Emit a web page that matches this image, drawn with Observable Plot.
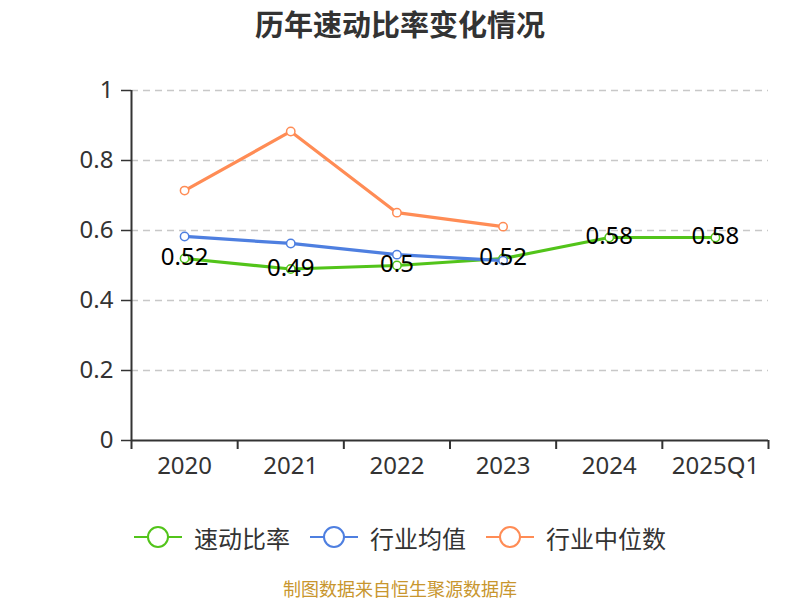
<!DOCTYPE html>
<html><head><meta charset="utf-8">
<script src="https://cdn.jsdelivr.net/npm/d3@7"></script>
<script src="https://cdn.jsdelivr.net/npm/@observablehq/plot@0.6"></script>
<style>
body{margin:0;background:#fff;font-family:"Noto Sans CJK SC","Noto Sans",sans-serif;width:800px;height:600px;overflow:hidden;position:relative}
#title{position:absolute;top:0;left:0;width:800px;height:46px;line-height:46px;text-align:center;font-size:29px;font-weight:bold;color:#333}
#chart{position:absolute;top:45px;left:0}
#legend{position:absolute;top:518px;left:0;width:800px;height:38px;display:flex;justify-content:center;align-items:center;font-size:24px;color:#333}
.item{display:flex;align-items:center;margin:0 10px}
.item svg{margin-right:12px}
#caption{position:absolute;top:579px;left:0;width:800px;height:19px;line-height:19px;text-align:center;font-size:18px;color:#c8962e}
</style></head>
<body>
<div id="title">历年速动比率变化情况</div>
<div id="chart"></div>
<div id="legend"></div>
<div id="caption">制图数据来自恒生聚源数据库</div>
<script>
const categories = ["2020","2021","2022","2023","2024","2025Q1"];
const quickRatio = [0.52,0.49,0.5,0.52,0.58,0.58];
const industryMean = [0.583,0.563,0.531,0.514,null,null];
const industryMedian = [0.714,0.883,0.651,0.611,null,null];
const yTicks = [0,0.2,0.4,0.6,0.8,1];
const seriesNames = ["速动比率","行业均值","行业中位数"];
const colors = ["#52c41a","#4e7fe0","#ff8c55"];

const rows = [];
[quickRatio, industryMean, industryMedian].forEach((arr, s) => {
  arr.forEach((v, i) => { if (v != null) rows.push({series: seriesNames[s], i, v}); });
});
const idx = categories.map((c, i) => i);
const bounds = [...idx.map(i => i - 0.5), categories.length - 0.5];
const labelRows = quickRatio.map((v, i) => ({i, v}));

const plot = Plot.plot({
  width: 800, height: 435,
  marginLeft: 131, marginRight: 32, marginTop: 45, marginBottom: 40,
  style: {fontFamily: '"Noto Sans","Open Sans",sans-serif', fontSize: "24px", color: "#333", background: "transparent"},
  x: {type: "linear", domain: [-0.5, categories.length - 0.5], label: null},
  y: {domain: [0, 1], label: null},
  color: {domain: seriesNames, range: colors},
  marks: [
    Plot.ruleY(yTicks.filter(d => d > 0), {stroke: "#c8c8c8", strokeDasharray: "7,5", strokeWidth: 1.3}),
    Plot.axisY({ticks: yTicks, tickFormat: d => String(d), tickSize: 10, tickPadding: 8, fontSize: 24, stroke: "#333", strokeWidth: 1.5, fill: "#333", label: null}),
    Plot.ruleX([-0.5], {stroke: "#333", strokeWidth: 2}),
    Plot.ruleY([0], {stroke: "#333", strokeWidth: 2}),
    Plot.axisX({ticks: bounds, tickFormat: () => "", tickSize: 9, stroke: "#333", strokeWidth: 2, label: null}),
    Plot.axisX({ticks: idx, tickFormat: i => categories[i], tickSize: 0, tickPadding: 16, fontSize: 24, fill: "#333", label: null}),
    Plot.line(rows, {x: "i", y: "v", z: "series", stroke: "series", strokeWidth: 3.2}),
    Plot.dot(rows, {x: "i", y: "v", stroke: "series", fill: "white", r: 4.2, strokeWidth: 1.5}),
    Plot.text(labelRows, {x: "i", y: "v", text: d => String(d.v), fontSize: 24, fill: "#000", dy: -1})
  ]
});
document.getElementById("chart").appendChild(plot);

const legend = document.getElementById("legend");
seriesNames.forEach((name, s) => {
  const item = document.createElement("div");
  item.className = "item";
  item.innerHTML = `<svg width="48" height="24"><line x1="0" y1="12" x2="48" y2="12" stroke="${colors[s]}" stroke-width="2"/><circle cx="24" cy="12" r="10" fill="white" stroke="${colors[s]}" stroke-width="2"/></svg><span>${name}</span>`;
  legend.appendChild(item);
});
</script>
</body></html>
